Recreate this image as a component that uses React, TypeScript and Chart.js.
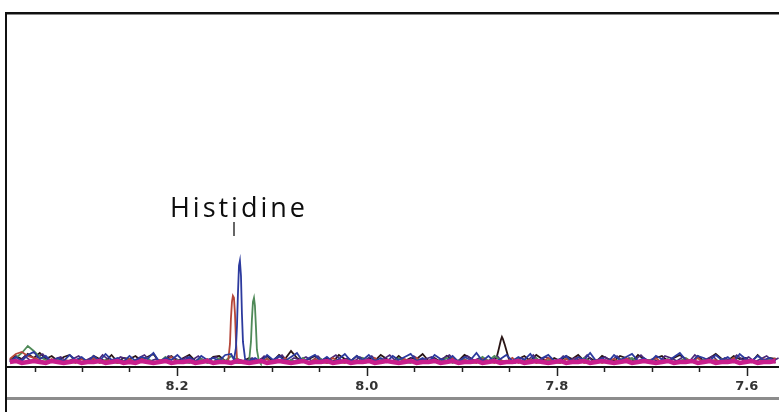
import { useEffect, useRef } from "react";
import { Chart, registerables } from "chart.js";
Chart.register(...registerables);

// x axis (ppm, reversed)
const ppmMax = 8.379;
const ppmMin = 7.566;
const tickValues = [8.35, 8.3, 8.25, 8.2, 8.15, 8.1, 8.05, 8.0, 7.95, 7.9, 7.85, 7.8, 7.75, 7.7, 7.65, 7.6];
const labelTicks = [8.2, 8.0, 7.8, 7.6];

// sampling grid for baseline noise
const gridStart = 8.376;
const gridStep = 0.0063;

// annotation
const annotationText = "Histidine";
const annotationPpm = 8.14;

// baseline noise per trace (intensity units)
const navyNoise = [
  2, 7, 3, 9, 12, 5, 8, 2, 6, 3, 9, 4, 7, 2, 8, 3, 10, 4, 6, 2, 8, 3, 7, 5, 11, 2, 6, 4, 9, 3,
  7, 2, 8, 4, 6, 3, 9, 10, 4, 8, 3, 6, 2, 9, 4, 8, 3, 7, 11, 2, 6, 9, 3, 7, 2, 5, 10, 3, 8, 4,
  9, 3, 6, 2, 8, 4, 7, 10, 3, 6, 2, 9, 5, 3, 8, 2, 7, 4, 11, 3, 8, 2, 5, 9, 3, 7, 4, 10, 2, 6,
  9, 3, 5, 8, 2, 7, 4, 11, 3, 6, 2, 9, 4, 7, 10, 3, 6, 2, 8, 5, 3, 7, 11, 4, 2, 8, 6, 3, 9, 4,
  7, 2, 10, 5, 3, 8, 4, 6, 3,
];
const purpleNoise = [
  4, 2, 8, 3, 6, 10, 3, 5, 7, 2, 5, 8, 3, 6, 2, 9, 4, 3, 7, 5, 2, 6, 9, 3, 5, 2, 8, 6, 3, 7,
  4, 8, 2, 5, 7, 1, 1, 1, 1, 3, 6, 2, 8, 3, 5, 9, 2, 6, 4, 7, 3, 8, 2, 5, 9, 3, 6, 2, 7, 4,
  8, 2, 5, 9, 3, 6, 2, 8, 4, 5, 7, 3, 6, 9, 2, 5, 8, 3, 6, 2, 4, 8, 1, 1, 1, 6, 3, 9, 2, 7,
  5, 2, 8, 4, 6, 3, 9, 2, 5, 7, 3, 8, 2, 6, 4, 9, 3, 5, 2, 8, 6, 3, 7, 2, 9, 4, 5, 8, 2, 6,
  3, 9, 4, 7, 2, 5, 8, 3, 6,
];
const redNoise = [
  5, 10, 12, 8, 6, 4, 2, 5, 1, 4, 3, 1, 5, 2, 6, 1, 3, 4, 1, 3, 5, 1, 6, 2, 1, 4, 3, 7, 1, 3,
  4, 2, 1, 5, 2, 1, 1, 1, 1, 1, 1, 1, 3, 5, 1, 3, 6, 1, 2, 4, 1, 5, 2, 1, 6, 2, 1, 4, 3, 1,
  2, 6, 1, 4, 2, 1, 5, 2, 6, 1, 3, 4, 1, 2, 6, 1, 4, 2, 1, 5, 3, 1, 4, 2, 6, 1, 3, 4, 1, 2,
  6, 2, 1, 5, 3, 7, 1, 2, 4, 1, 3, 5, 1, 6, 2, 1, 4, 3, 6, 1, 4, 2, 1, 5, 2, 6, 1, 3, 4, 1,
  2, 6, 1, 4, 3, 1, 5, 2, 6,
];
const greenNoise = [
  3, 6, 11, 18, 13, 7, 4, 2, 5, 1, 3, 4, 1, 2, 6, 1, 4, 2, 1, 3, 5, 1, 3, 6, 1, 2, 7, 1, 4, 2,
  1, 3, 5, 1, 2, 6, 3, 8, 4, 2, 1, 1, 3, 5, 1, 3, 1, 4, 2, 6, 1, 3, 5, 1, 2, 1, 4, 3, 1, 6,
  2, 1, 4, 3, 1, 6, 2, 1, 5, 2, 1, 4, 2, 6, 1, 3, 5, 1, 2, 7, 3, 8, 4, 1, 2, 5, 1, 3, 6, 1,
  4, 2, 1, 5, 3, 1, 6, 2, 1, 4, 3, 1, 5, 2, 6, 1, 3, 4, 1, 2, 5, 1, 3, 6, 2, 1, 4, 3, 1, 5,
  2, 6, 1, 3, 4, 1, 2, 5, 1,
];
const blackNoise = [
  4, 8, 5, 10, 6, 11, 5, 8, 3, 7, 9, 3, 6, 2, 8, 5, 3, 9, 2, 6, 5, 8, 3, 7, 10, 2, 5, 8, 3, 6,
  9, 3, 5, 2, 7, 8, 3, 2, 5, 3, 6, 2, 5, 8, 3, 9, 5, 13, 6, 3, 5, 8, 3, 6, 2, 9, 5, 3, 8, 2,
  6, 3, 9, 5, 2, 8, 3, 6, 5, 10, 3, 6, 2, 8, 5, 3, 9, 6, 2, 5, 3, 6, 1, 1, 1, 5, 8, 3, 9, 5,
  2, 6, 3, 8, 5, 9, 3, 6, 2, 8, 5, 3, 8, 6, 2, 9, 5, 3, 6, 8, 3, 6, 9, 5, 2, 8, 3, 6, 10, 5,
  3, 8, 5, 6, 2, 9, 3, 6, 5,
];
const magentaNoise = [
  2, 3, 1, 2, 3, 2, 1, 3, 2, 1, 2, 3, 1, 2, 2, 3, 1, 2, 3, 1, 2, 1, 3, 2, 1, 2, 3, 1, 2, 2,
  3, 1, 2, 3, 1, 2, 2, 1, 3, 2, 1, 2, 3, 1, 2, 3, 2, 1, 2, 3, 1, 2, 2, 3, 1, 2, 3, 1, 2, 2,
  3, 1, 2, 3, 2, 1, 2, 3, 1, 2, 2, 3, 1, 2, 3, 1, 2, 2, 3, 1, 2, 3, 1, 2, 2, 3, 1, 2, 3, 2,
  1, 2, 3, 1, 2, 2, 3, 1, 2, 3, 2, 1, 2, 3, 1, 2, 3, 2, 1, 2, 3, 1, 2, 2, 3, 1, 2, 3, 1, 2,
  2, 3, 1, 2, 3, 1, 2, 2, 3,
];

// peaks: [ppm, intensity]
const redPeak: [number, number][] = [
  [8.1463, 1], [8.1442, 20], [8.1432, 45], [8.1421, 62], [8.1411, 68], [8.14, 66], [8.1389, 50], [8.1379, 24], [8.1368, 6], [8.1347, 1],
];
const bluePeak: [number, number][] = [
  [8.14, 4], [8.1379, 16], [8.1368, 38], [8.1358, 70], [8.1347, 98], [8.1337, 103], [8.1326, 88], [8.1316, 50], [8.1305, 22], [8.1284, 6], [8.1263, 1],
];
const greenPeak: [number, number][] = [
  [8.1242, 1], [8.1221, 22], [8.1211, 44], [8.12, 62], [8.1189, 66], [8.1179, 58], [8.1168, 36], [8.1158, 14], [8.1137, 3], [8.1116, 0],
];
const blackPeak: [number, number][] = [
  [7.8663, 2], [7.8632, 7], [7.8611, 15], [7.8589, 24], [7.8578, 27], [7.8568, 25], [7.8547, 19], [7.8526, 12], [7.8505, 5], [7.8484, 2],
];

function buildSeries(noise: number[], peak: [number, number][], offset = 0) {
  let pts = noise.map((v, i) => ({ x: gridStart - offset - i * gridStep, y: v }));
  if (peak.length) {
    const hi = Math.max(...peak.map((p) => p[0]));
    const lo = Math.min(...peak.map((p) => p[0]));
    pts = pts.filter((p) => p.x > hi || p.x < lo);
  }
  return [...pts, ...peak.map(([x, y]) => ({ x, y }))].sort((a, b) => b.x - a.x);
}

const framePlugin = {
  id: "frame",
  beforeDraw(chart: any) {
    const { ctx, width, height } = chart;
    ctx.save();
    ctx.fillStyle = "#ffffff";
    ctx.fillRect(0, 0, width, height);
    ctx.restore();
  },
  afterDraw(chart: any) {
    const { ctx, width, height } = chart;
    const xs = chart.scales.x;
    ctx.save();
    // frame
    ctx.strokeStyle = "#8a8a8a";
    ctx.lineWidth = 1;
    ctx.beginPath();
    ctx.moveTo(5, 14.5);
    ctx.lineTo(width, 14.5);
    ctx.stroke();
    ctx.strokeStyle = "#111";
    ctx.lineWidth = 2;
    ctx.beginPath();
    ctx.moveTo(5, 13);
    ctx.lineTo(width, 13);
    ctx.moveTo(6, 12);
    ctx.lineTo(6, height);
    ctx.stroke();
    ctx.strokeStyle = "#8c8c8c";
    ctx.lineWidth = 3;
    ctx.beginPath();
    ctx.moveTo(7, 398.5);
    ctx.lineTo(width, 398.5);
    ctx.stroke();
    // tick marks
    const y0 = xs.top;
    ctx.strokeStyle = "#222";
    ctx.lineWidth = 1.5;
    tickValues.forEach((v) => {
      const major = labelTicks.some((l) => Math.abs(l - v) < 1e-6);
      const x = Math.round(xs.getPixelForValue(v)) + 0.5;
      ctx.beginPath();
      ctx.moveTo(x, y0);
      ctx.lineTo(x, y0 + (major ? 9 : 5));
      ctx.stroke();
    });
    // annotation
    const ax = xs.getPixelForValue(annotationPpm);
    ctx.fillStyle = "#0d0d0d";
    ctx.font = "27px 'Open Sans'";
    (ctx as any).letterSpacing = "3px";
    ctx.textAlign = "center";
    ctx.textBaseline = "alphabetic";
    ctx.fillText(annotationText, ax + 5, 217);
    (ctx as any).letterSpacing = "0px";
    ctx.strokeStyle = "#666";
    ctx.lineWidth = 2;
    ctx.beginPath();
    ctx.moveTo(Math.round(ax), 222);
    ctx.lineTo(Math.round(ax), 236);
    ctx.stroke();
    ctx.restore();
  },
};

export default function App() {
  const ref = useRef<HTMLCanvasElement>(null);
  useEffect(() => {
    if (!ref.current) return;
    const line = (label: string, data: any[], color: string, w: number) => ({
      label,
      data,
      borderColor: color,
      backgroundColor: color,
      borderWidth: w,
      pointRadius: 0,
      tension: 0,
      fill: false,
    });
    const chart = new Chart(ref.current, {
      type: "line",
      data: {
        datasets: [
          line("magenta", buildSeries(magentaNoise, []), "#c81e8c", 4.5),
          line("blue", buildSeries(navyNoise, bluePeak), "#2c3a9e", 1.8),
          line("red", buildSeries(redNoise, redPeak), "#b5473a", 1.8),
          line("green", buildSeries(greenNoise, greenPeak), "#4f8a58", 1.8),
          line("purple", buildSeries(purpleNoise, [], gridStep / 2), "#4a2a7a", 1.6),
          line("black", buildSeries(blackNoise, blackPeak), "#2a1616", 1.8),
        ],
      },
      options: {
        responsive: false,
        animation: false,
        layout: { padding: { left: 7, right: 0, top: 14, bottom: 13 } },
        plugins: { legend: { display: false }, tooltip: { enabled: false } },
        scales: {
          x: {
            type: "linear",
            reverse: true,
            min: ppmMin,
            max: ppmMax,
            afterBuildTicks: (scale: any) => {
              scale.ticks = tickValues.map((v) => ({ value: v }));
            },
            afterFit: (scale: any) => {
              scale.height = 32;
            },
            grid: { display: false, drawTicks: false },
            border: { display: true, color: "#111", width: 2 },
            ticks: {
              autoSkip: false,
              maxRotation: 0,
              padding: 12,
              color: "#333",
              font: { family: "'DejaVu Sans'", size: 13, weight: "bold" },
              callback: (v: any) =>
                labelTicks.some((l) => Math.abs(l - Number(v)) < 1e-6) ? Number(v).toFixed(1) : "",
            },
          },
          y: {
            display: false,
            min: -3,
            max: 349,
          },
        },
      },
      plugins: [framePlugin],
    });
    return () => chart.destroy();
  }, []);
  return (
    <div style={{ position: "absolute", left: 0, top: 0, width: 779, height: 412 }}>
      <canvas ref={ref} width={779} height={412} />
    </div>
  );
}
